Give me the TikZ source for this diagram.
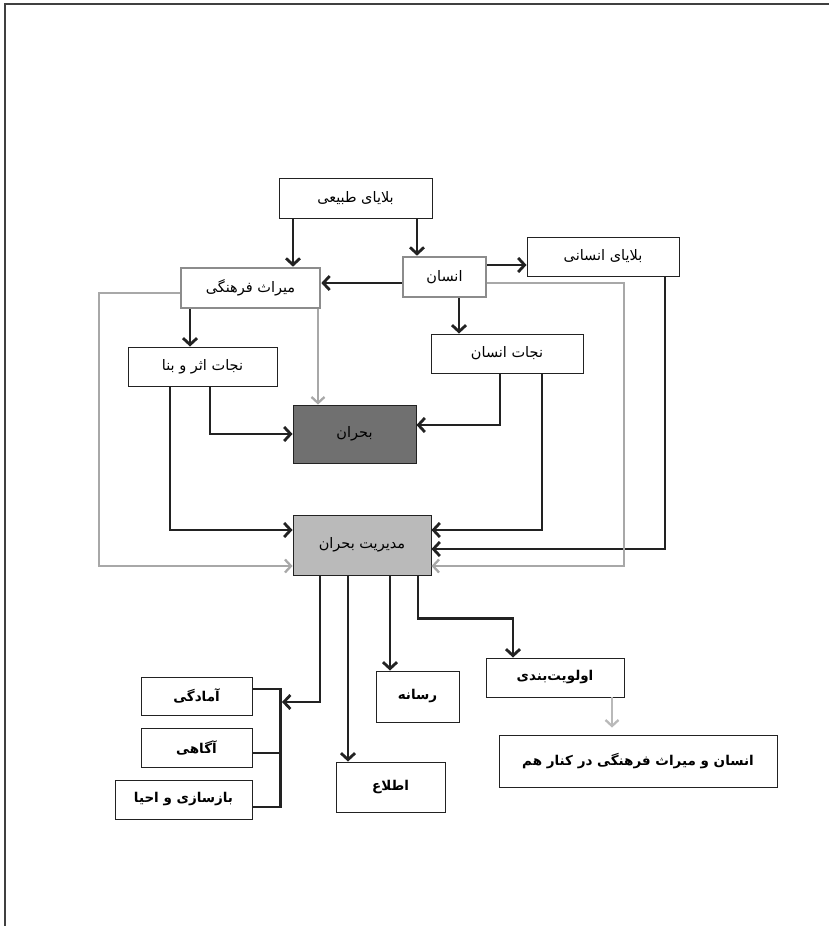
\documentclass[tikz,border=0pt]{standalone}
\usepackage{fontspec}
\newfontfamily\fa[Script=Arabic]{DejaVu Sans}
\TeXXeTstate=1
\usetikzlibrary{arrows.meta,calc}
\newcommand\fat[1]{{\fa\beginR #1\endR}}
\definecolor{ink}{HTML}{222222}
\definecolor{greyline}{HTML}{A8A8A8}
\definecolor{greybox}{HTML}{8C8C8C}
\definecolor{darkfill}{HTML}{707070}
\definecolor{lightfill}{HTML}{BABABA}
\begin{document}
\begin{tikzpicture}[x=1pt,y=-1pt,
  box/.style={draw=ink, line width=0.9pt, fill=white, inner sep=0pt, align=center,
    font=\fontsize{14.5}{16}\selectfont},
  boldbox/.style={box, font=\fontsize{13.5}{15}\selectfont\bfseries},
  greyframe/.style={box, draw=greybox, line width=2.6pt},
  arr/.style={draw=ink, line width=2.8pt, -{Straight Barb[length=6.5pt,width=14pt]}},
  garr/.style={draw=greyline, line width=2.3pt, -{Straight Barb[length=6pt,width=13pt]}},
  plain/.style={draw=ink, line width=2.8pt},
]
\useasboundingbox (0,0) rectangle (829,926);
\draw[draw=black!75, line width=1.5pt] (5,926) -- (5,4) -- (829,4);

% nodes
\node[box, minimum width=153pt, minimum height=40pt] (tabi) at (355.5,198) {\fat{بلایای طبیعی}};
\node[greyframe, minimum width=83pt, minimum height=40pt] (ensan) at (444.5,277) {\fat{انسان}};
\node[box, minimum width=152pt, minimum height=39pt] (ensani) at (603,256.5) {\fat{بلایای انسانی}};
\node[greyframe, minimum width=139pt, minimum height=40pt] (miras) at (250.5,288) {\fat{میراث فرهنگی}};
\node[box, minimum width=149pt, minimum height=39pt] (nejatasar) at (202.5,366.5) {\fat{نجات اثر و بنا}};
\node[box, minimum width=152pt, minimum height=39pt] (nejatensan) at (507,353.5) {\fat{نجات انسان}};
\node[box, fill=darkfill, minimum width=123pt, minimum height=58pt] (bohran) at (354.5,434) {\fat{بحران}};
\node[box, fill=lightfill, minimum width=138pt, minimum height=60pt] (modiriat) at (362,545) {\fat{مدیریت بحران}};
\node[boldbox, minimum width=111pt, minimum height=38pt] (amadegi) at (196.5,696) {\fat{آمادگی}};
\node[boldbox, minimum width=111pt, minimum height=39pt] (agahi) at (196.5,747.5) {\fat{آگاهی}};
\node[boldbox, minimum width=137pt, minimum height=39pt] (bazsazi) at (183.5,799.5) {\fat{بازسازی و احیا}};
\node[boldbox, minimum width=109pt, minimum height=50pt] (ettela) at (390.5,787) {\fat{اطلاع}};
\node[boldbox, minimum width=83pt, minimum height=51pt] (resane) at (417.5,696.5) {\fat{رسانه}};
\node[boldbox, minimum width=138pt, minimum height=39pt] (olaviat) at (555,677.5) {\fat{اولویت‌بندی}};
\node[boldbox, minimum width=278pt, minimum height=52pt] (kenar) at (638,761) {\fat{انسان و میراث فرهنگی در کنار هم}};
\coordinate (bk) at (282,702);

% upper connectors
\draw[arr] ([xshift=-62.5pt]tabi.south) -- ([xshift=-62.5pt]tabi.south |- miras.north);
\draw[arr] ([xshift=61.5pt]tabi.south) -- ([xshift=61.5pt]tabi.south |- ensan.north);
\draw[arr] ([yshift=12pt]ensan.east) -- ([yshift=12pt]ensan.east -| ensani.west);
\draw[arr] ([yshift=-6pt]ensan.west) -- ([yshift=-6pt]ensan.west -| miras.east);
\draw[arr] ([xshift=14.5pt]ensan.south) -- ([xshift=14.5pt]ensan.south |- nejatensan.north);
\draw[arr] ([xshift=-60.5pt]miras.south) -- ([xshift=-60.5pt]miras.south |- nejatasar.north);
\draw[garr] ([xshift=67.5pt]miras.south) -- ([xshift=67.5pt]miras.south |- bohran.north);
\draw[arr] ([xshift=7.5pt]nejatasar.south) |- (bohran.west);
\draw[arr] ([xshift=-32.5pt]nejatasar.south) |- ([yshift=15pt]modiriat.west);
\draw[arr] ([xshift=-7pt]nejatensan.south) |- ([yshift=9pt]bohran.east);
\draw[arr] ([xshift=35pt]nejatensan.south) |- ([yshift=15pt]modiriat.east);
\draw[arr] ([xshift=62pt]ensani.south) |- ([yshift=-4pt]modiriat.east);
\draw[garr] ([yshift=-5pt]miras.west) -- ++(-81,0) |- ([yshift=-21pt]modiriat.west);
\draw[garr] ([yshift=-6pt]ensan.east) -- ++(137,0) |- ([yshift=-21pt]modiriat.east);

% lower connectors
\draw[arr] ([xshift=-42pt]modiriat.south) |- (bk);
\draw[plain] ([yshift=7pt]amadegi.east) -- ++(28,0) |- ([yshift=-7.5pt]bazsazi.east);
\draw[plain] ([yshift=-5.5pt]agahi.east) -- ++(28,0);
\draw[arr] ([xshift=-14pt]modiriat.south) -- ([xshift=-14pt]modiriat.south |- ettela.north);
\draw[arr] ([xshift=28pt]modiriat.south) -- ([xshift=28pt]modiriat.south |- resane.north);
\draw[arr] ([xshift=56pt]modiriat.south) -- ++(0,43) -| ([xshift=-42pt]olaviat.north);
\draw[garr, draw=greyline!80] ([xshift=57pt]olaviat.south) -- ([xshift=-26pt,yshift=7pt]kenar.north);
\end{tikzpicture}
\end{document}
